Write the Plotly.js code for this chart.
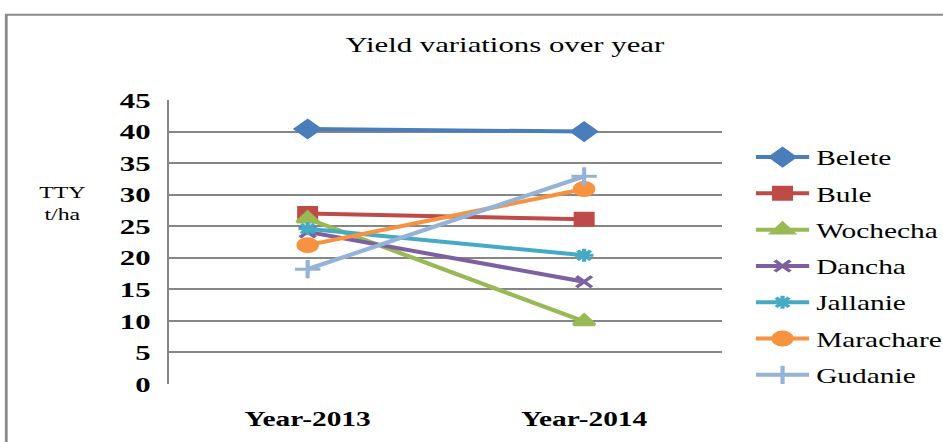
<!DOCTYPE html>
<html>
<head>
<meta charset="utf-8">
<script src="https://cdn.plot.ly/plotly-3.0.1.min.js"></script>
<style>
html,body{margin:0;padding:0;background:#fff;overflow:hidden;width:943px;height:442px;}
#chart{width:674px;height:442px;transform:scaleX(1.4);transform-origin:0 0;}
</style>
</head>
<body>
<div id="chart"></div>
<script>
const years = ["Year-2013", "Year-2014"];
const seriesNames = ["Belete", "Bule", "Wochecha", "Dancha", "Jallanie", "Marachare", "Gudanie"];
const belete = [40.4, 40.0];
const bule = [27.0, 26.1];
const wochecha = [26.2, 9.9];
const dancha = [24.1, 16.2];
const jallanie = [24.6, 20.4];
const marachare = [22.0, 30.9];
const gudanie = [18.2, 32.9];
const yTicks = [0, 5, 10, 15, 20, 25, 30, 35, 40, 45];

const values = [belete, bule, wochecha, dancha, jallanie, marachare, gudanie];
const colors = ["#4A7EBB", "#BE4B48", "#98B954", "#7D60A0", "#46AAC5", "#F69240", "#95B3D7"];
const symbols = ["diamond", "square", "triangle-up", "x-thin-open", "asterisk-open", "circle", "cross-thin-open"];
const sizes = [13, 12, 13, 11, 11, 13, 13];

const traces = seriesNames.map((n, i) => ({
  type: "scatter",
  mode: "lines+markers",
  name: n,
  legendgroup: n,
  x: years,
  y: values[i],
  line: {color: colors[i], width: 4},
  marker: {symbol: symbols[i], size: sizes[i], color: colors[i], line: {color: colors[i], width: 3}}
}));

const serif = "Liberation Serif, Times New Roman, serif";
const layout = {
  width: 674, height: 442,
  margin: {l: 121, r: 158, t: 100, b: 58, autoexpand: false},
  paper_bgcolor: "#fff", plot_bgcolor: "#fff",
  font: {family: serif, color: "#000"},
  title: {text: "Yield variations over year", x: 0.535, xanchor: "center", y: 0.9, yanchor: "middle", font: {size: 22, family: serif, color: "#000"}},
  xaxis: {
    type: "category", range: [-0.5, 1.5], automargin: false,
    showgrid: false, zeroline: false, showline: false, ticks: "",
    tickfont: {size: 21, family: serif, weight: "bold", color: "#000"},
    ticklabelstandoff: 20
  },
  yaxis: {
    range: [0, 45], tickvals: yTicks, ticktext: yTicks.map(String), automargin: false,
    showgrid: true, gridcolor: "#868686", gridwidth: 2,
    zeroline: false, showline: true, linecolor: "#868686", linewidth: 2, mirror: false,
    ticks: "", ticklabelstandoff: 7,
    tickfont: {size: 22, family: serif, weight: "bold", color: "#000"}
  },
  showlegend: true,
  legend: {
    x: 1.048, y: 0.87, xanchor: "left", yanchor: "top",
    font: {size: 21, family: serif, color: "#000"},
    traceorder: "grouped", tracegroupgap: 6, itemwidth: 38,
    bgcolor: "rgba(0,0,0,0)"
  },
  annotations: [
    {xref: "paper", yref: "paper", x: -0.193, y: 0.634, xanchor: "center", yanchor: "middle",
     text: "TTY<br>t/ha", showarrow: false, align: "center", font: {size: 17, family: serif, color: "#000"}}
  ],
  shapes: [
    {type: "rect", xref: "paper", yref: "paper", x0: -0.295, x1: 1.5, y0: -0.3, y1: 1.3,
     line: {color: "#8a8a8a", width: 2}, fillcolor: "rgba(0,0,0,0)", layer: "below"}
  ]
};

Plotly.newPlot("chart", traces, layout, {displayModeBar: false, staticPlot: true});
</script>
</body>
</html>
